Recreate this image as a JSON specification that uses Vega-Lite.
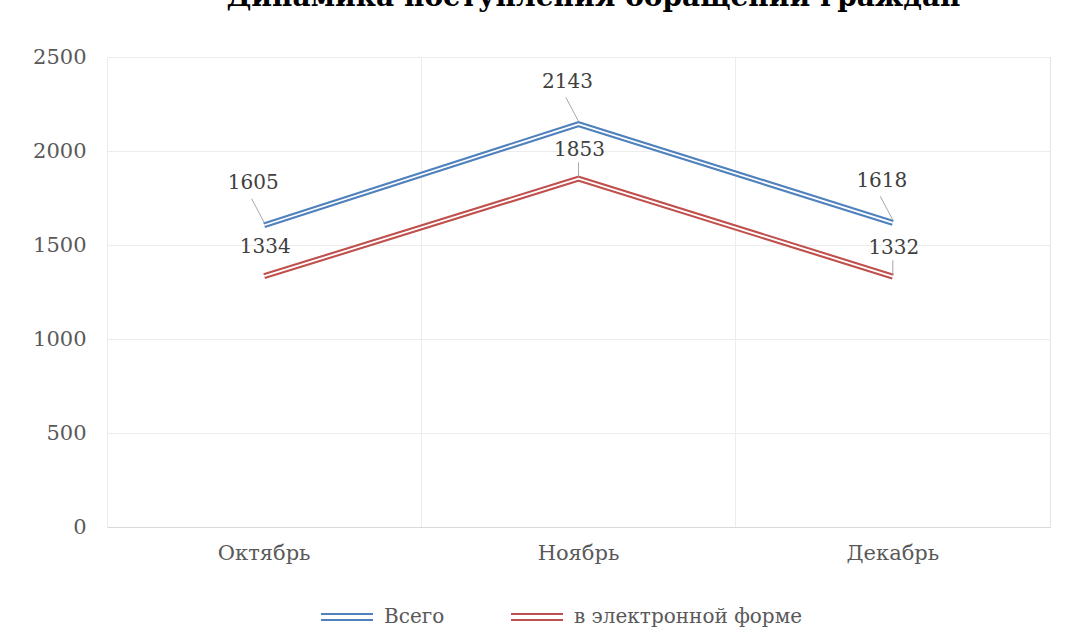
{
  "$schema": "https://vega.github.io/schema/vega-lite/v6.json",
  "autosize": {"type": "none"},
  "width": 943,
  "height": 470,
  "padding": {"left": 107, "top": 57, "right": 17, "bottom": 108},
  "background": "white",
  "title": {
    "text": "Динамика поступления обращений граждан",
    "font": "DejaVu Serif",
    "fontSize": 28,
    "fontWeight": "bold",
    "color": "#000000",
    "anchor": "middle",
    "frame": "group",
    "baseline": "alphabetic",
    "offset": 12,
    "dx": 15
  },
  "config": {
    "view": {"stroke": "#e3e3e3", "strokeWidth": 1},
    "axis": {
      "labelFont": "DejaVu Serif",
      "labelFontSize": 21,
      "labelColor": "#595959",
      "ticks": false,
      "title": null,
      "gridColor": "#ececec",
      "gridWidth": 1
    },
    "legend": {
      "labelFont": "DejaVu Serif",
      "labelFontSize": 20,
      "labelColor": "#595959",
      "labelLimit": 0
    }
  },
  "data": {
    "values": [
      {"month": "Октябрь", "series": "Всего", "value": 1605},
      {"month": "Ноябрь", "series": "Всего", "value": 2143},
      {"month": "Декабрь", "series": "Всего", "value": 1618},
      {"month": "Октябрь", "series": "в электронной форме", "value": 1334},
      {"month": "Ноябрь", "series": "в электронной форме", "value": 1853},
      {"month": "Декабрь", "series": "в электронной форме", "value": 1332}
    ]
  },
  "encoding": {
    "x": {
      "field": "month",
      "type": "nominal",
      "sort": ["Октябрь", "Ноябрь", "Декабрь"],
      "scale": {"type": "band", "paddingInner": 0, "paddingOuter": 0},
      "axis": {
        "labelAngle": 0,
        "labelPadding": 15,
        "grid": true,
        "bandPosition": 0,
        "domain": true,
        "domainColor": "#d9d9d9",
        "domainWidth": 1
      }
    },
    "y": {
      "field": "value",
      "type": "quantitative",
      "scale": {"domain": [0, 2500]},
      "axis": {"values": [0, 500, 1000, 1500, 2000, 2500], "format": "d", "labelPadding": 21, "domain": false}
    }
  },
  "layer": [
    {
      "mark": {"type": "line", "strokeWidth": 6},
      "encoding": {
        "color": {
          "field": "series",
          "type": "nominal",
          "scale": {"domain": ["Всего", "в электронной форме"], "range": ["#4f81bd", "#c0504d"]},
          "legend": {
            "title": null,
            "orient": "none",
            "legendX": 213,
            "legendY": 533,
            "direction": "horizontal",
            "symbolType": "M-1,-0.12H1M-1,0.12H1",
            "symbolSize": 2704,
            "symbolStrokeWidth": 2,
            "symbolFillColor": "transparent",
            "labelOffset": 10,
            "columnPadding": 62
          }
        }
      }
    },
    {
      "mark": {"type": "line", "strokeWidth": 1.8, "color": "white"},
      "encoding": {"detail": {"field": "series", "type": "nominal"}}
    },
    {
      "transform": [{"filter": "datum.series == 'Всего'"}],
      "mark": {"type": "point", "shape": "M0,-0.1L-0.45,-0.95", "size": 3136, "stroke": "#a6a6a6", "strokeWidth": 1, "filled": false, "opacity": 1}
    },
    {
      "transform": [{"filter": "datum.series == 'в электронной форме' && datum.month != 'Октябрь'"}],
      "mark": {"type": "point", "shape": "M0,-0.1L0,-0.9", "size": 1300, "stroke": "#a6a6a6", "strokeWidth": 1, "filled": false, "opacity": 1}
    },
    {
      "transform": [{"filter": "datum.series == 'Всего'"}],
      "mark": {"type": "text", "font": "DejaVu Serif", "fontSize": 20, "color": "#404040", "dx": -11, "dy": -42, "baseline": "middle"},
      "encoding": {"text": {"field": "value", "type": "quantitative"}}
    },
    {
      "transform": [{"filter": "datum.series == 'в электронной форме'"}],
      "mark": {"type": "text", "font": "DejaVu Serif", "fontSize": 20, "color": "#404040", "dx": 1, "dy": -29, "baseline": "middle"},
      "encoding": {"text": {"field": "value", "type": "quantitative"}}
    }
  ]
}
